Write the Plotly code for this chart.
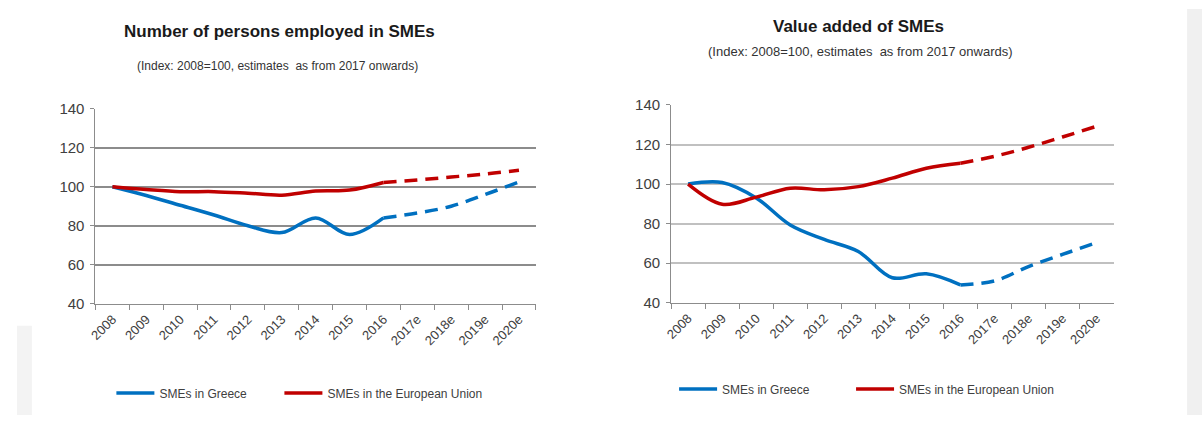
import plotly.graph_objects as go

# Category labels (2017 onwards are estimates)
years = ["2008", "2009", "2010", "2011", "2012", "2013", "2014",
         "2015", "2016", "2017e", "2018e", "2019e", "2020e"]

# Number of persons employed in SMEs (Index 2008=100)
emp_greece = [100, 95.5, 90.5, 85.5, 80.0, 76.5, 84.0, 75.5, 84.0, 86.5, 90.0, 96.0, 102.5]
emp_eu = [100, 98.6, 97.5, 97.5, 96.7, 95.7, 97.8, 98.3, 102.2, 103.5, 105.0, 106.5, 108.5]

# Value added of SMEs (Index 2008=100)
va_greece = [100, 100.8, 93.0, 79.3, 72.0, 65.9, 52.6, 54.6, 49.0, 51.0, 58.3, 64.4, 70.4]
va_eu = [100, 89.8, 93.4, 97.9, 97.1, 98.7, 103.0, 108.0, 110.5, 114.0, 118.6, 123.8, 129.2]

BLUE = "#0070C0"
RED = "#C00000"
FONT = "Arial, Liberation Sans, sans-serif"
W, H = 1202, 423
SPLIT = 8  # index of the last actual observation (2016)


def px_x(v):
    return v / W


def px_y(v):
    return 1 - v / H


fig = go.Figure()


def add_series(values, color, name, xa, ya, legend):
    fig.add_trace(go.Scatter(
        x=years[:SPLIT + 1], y=values[:SPLIT + 1], mode="lines",
        line=dict(color=color, width=3.5, shape="spline", smoothing=1),
        name=name, xaxis=xa, yaxis=ya, legend=legend, showlegend=True,
        hoverinfo="x+y"))
    fig.add_trace(go.Scatter(
        x=years[SPLIT:], y=values[SPLIT:], mode="lines",
        line=dict(color=color, width=3.5, shape="spline", smoothing=1,
                  dash="13px,8px"),
        name=name + " (estimate)", xaxis=xa, yaxis=ya, showlegend=False,
        hoverinfo="x+y"))


# one legend box per entry so each can sit where the chart wants it
add_series(emp_greece, BLUE, "SMEs in Greece", "x", "y", "legend")
add_series(emp_eu, RED, "SMEs in the European Union", "x", "y", "legend2")
add_series(va_greece, BLUE, "SMEs in Greece", "x2", "y2", "legend3")
add_series(va_eu, RED, "SMEs in the European Union", "x2", "y2", "legend4")

xaxis_common = dict(
    type="category", categoryorder="array", categoryarray=years,
    range=[-0.5, 12.5], tickson="boundaries", ticks="outside", ticklen=5,
    tickcolor="#8c8c8c", showline=True, linecolor="#8c8c8c", linewidth=1,
    showgrid=False, tickangle=-45, fixedrange=True, ticklabelstandoff=2,
    tickfont=dict(family=FONT, size=13, color="#404040"), zeroline=False)

yaxis_common = dict(
    range=[40, 140], tickvals=[40, 60, 80, 100, 120, 140], ticks="outside",
    ticklen=4, tickcolor="#8c8c8c", showline=True, linecolor="#8c8c8c",
    linewidth=1, zeroline=False, fixedrange=True, ticklabelstandoff=3,
    tickfont=dict(family=FONT, size=15, color="#404040"))


def legend_box(x, y):
    return dict(orientation="h", x=px_x(x), y=px_y(y), xanchor="left",
                yanchor="middle", itemwidth=38, bgcolor="rgba(0,0,0,0)",
                font=dict(family=FONT, size=12, color="#404040"))


fig.update_layout(
    width=W, height=H, margin=dict(l=0, r=0, t=0, b=0),
    paper_bgcolor="white", plot_bgcolor="white",
    font=dict(family=FONT, color="#404040"),
    xaxis=dict(xaxis_common, domain=[px_x(89), px_x(532)], anchor="y"),
    yaxis=dict(yaxis_common, domain=[px_y(307), px_y(104)], anchor="x",
               gridcolor="#8c8c8c", gridwidth=2),
    xaxis2=dict(xaxis_common, domain=[px_x(668), px_x(1113)], anchor="y2"),
    yaxis2=dict(yaxis_common, domain=[px_y(306), px_y(100)], anchor="x2",
                gridcolor="#c0c0c0", gridwidth=1.5),
    legend=legend_box(105, 400),
    legend2=legend_box(274, 400),
    legend3=legend_box(671, 396),
    legend4=legend_box(849, 396),
    showlegend=True,
)

annotations = [
    dict(text="<b>Number of persons employed in SMEs</b>", x=px_x(274), y=px_y(23),
         font=dict(family=FONT, size=17, color="#1a1a1a")),
    dict(text="(Index: 2008=100, estimates  as from 2017 onwards)", x=px_x(272), y=px_y(59),
         font=dict(family=FONT, size=12, color="#333333")),
    dict(text="<b>Value added of SMEs</b>", x=px_x(856), y=px_y(18),
         font=dict(family=FONT, size=17, color="#1a1a1a")),
    dict(text="(Index: 2008=100, estimates  as from 2017 onwards)", x=px_x(859), y=px_y(44),
         font=dict(family=FONT, size=13, color="#333333")),
]
for a in annotations:
    fig.add_annotation(xref="paper", yref="paper", showarrow=False,
                       xanchor="center", yanchor="middle", **a)

# Light grey page edges
fig.add_shape(type="rect", xref="paper", yref="paper", x0=px_x(1187), x1=1,
              y0=0, y1=1, fillcolor="#f0f0f0", line_width=0, layer="below")
fig.add_shape(type="rect", xref="paper", yref="paper", x0=px_x(10), x1=px_x(25),
              y0=0, y1=px_y(330), fillcolor="#f3f3f3", line_width=0, layer="below")

fig.write_html("out.html")
